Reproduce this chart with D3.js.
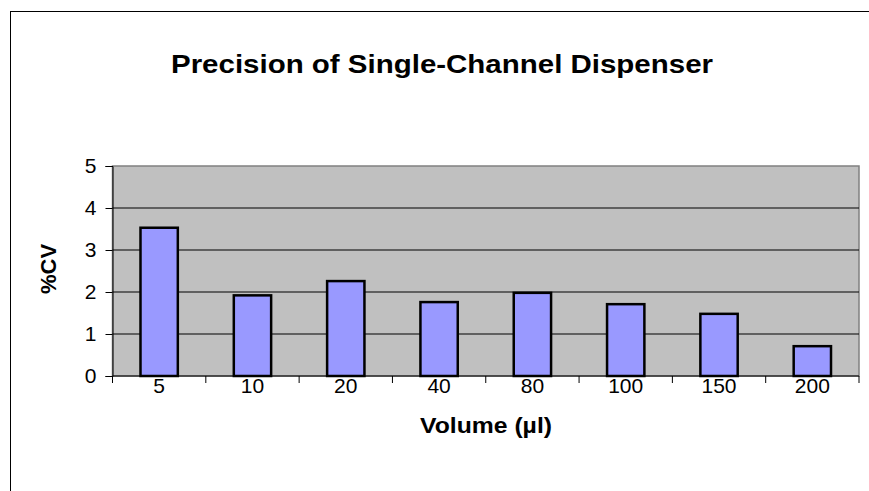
<!DOCTYPE html>
<html><head><meta charset="utf-8">
<script src="https://cdn.jsdelivr.net/npm/d3@7"></script>
<style>body{margin:0;background:#fff}svg{display:block;font-family:"Liberation Sans",Arial,sans-serif}</style>
</head><body><svg id="c" width="869" height="491"></svg>
<script>
const categories = ["5","10","20","40","80","100","150","200"];
const cvValues = [3.53, 1.92, 2.26, 1.76, 1.98, 1.71, 1.48, 0.71];
const yTicks = [0,1,2,3,4,5];
const titleText = "Precision of Single-Channel Dispenser";
const xTitle = "Volume (µl)";
const yTitle = "%CV";

const svg = d3.select("#c");
const L = 112.5, R = 859, T = 166, B = 376;

svg.append("rect").attr("x",10.5).attr("y",11.5).attr("width",1000).attr("height",1000)
  .attr("fill","#fff").attr("stroke","#000").attr("stroke-width",1);

const x = d3.scaleBand().domain(categories).range([L,R]).paddingInner(0.6).paddingOuter(0.3);
const xb = d3.scaleBand().domain(categories).range([L,R]);
const y = d3.scaleLinear().domain([0,5]).range([B,T]);

svg.append("rect").attr("x",L).attr("y",T).attr("width",R-L).attr("height",B-T)
  .attr("fill","#c0c0c0").attr("stroke","#808080").attr("stroke-width",1.5);

svg.append("g").selectAll("line").data(yTicks.filter(d=>d>0 && d<5)).join("line")
  .attr("x1",L).attr("x2",R).attr("y1",d=>y(d)).attr("y2",d=>y(d))
  .attr("stroke","#000").attr("stroke-width",1);

svg.append("g").selectAll("rect").data(categories).join("rect")
  .attr("x",d=>x(d)).attr("width",x.bandwidth())
  .attr("y",(d,i)=>y(cvValues[i])).attr("height",(d,i)=>B-y(cvValues[i]))
  .attr("fill","#9999ff").attr("stroke","#000").attr("stroke-width",2.5);

// y axis
const ya = svg.append("g").attr("transform",`translate(${L},0)`)
  .call(d3.axisLeft(y).tickValues(yTicks).tickSize(7).tickPadding(9).tickFormat(d3.format("d")));
ya.select(".domain").attr("stroke","#000");
ya.selectAll("text").attr("font-size",21).attr("fill","#000").attr("font-family","Liberation Sans, Arial, sans-serif");

// x axis with ticks at boundaries
const xa = svg.append("g").attr("transform",`translate(0,${B})`);
xa.append("line").attr("x1",L).attr("x2",R).attr("y1",0).attr("y2",0).attr("stroke","#000").attr("stroke-width",1);
const bounds = categories.map(c=>xb(c)).concat([R]);
xa.selectAll("line.t").data(bounds).join("line").attr("class","t")
  .attr("x1",d=>d).attr("x2",d=>d).attr("y1",0).attr("y2",7).attr("stroke","#000");
xa.selectAll("text").data(categories).join("text")
  .attr("x",d=>xb(d)+xb.bandwidth()/2).attr("y",17)
  .attr("text-anchor","middle").attr("font-size",21).attr("fill","#000").text(d=>d);

svg.append("text").attr("x",442).attr("y",73).attr("text-anchor","middle")
  .attr("font-size",25).attr("font-weight","bold")
  .attr("textLength",542).attr("lengthAdjust","spacingAndGlyphs").text(titleText);
svg.append("text").attr("x",486).attr("y",433).attr("text-anchor","middle")
  .attr("font-size",22).attr("font-weight","bold")
  .attr("textLength",132).attr("lengthAdjust","spacingAndGlyphs").text(xTitle);
svg.append("text").attr("transform","translate(56,269) rotate(-90)").attr("text-anchor","middle")
  .attr("font-size",22).attr("font-weight","bold").text(yTitle);
</script></body></html>
